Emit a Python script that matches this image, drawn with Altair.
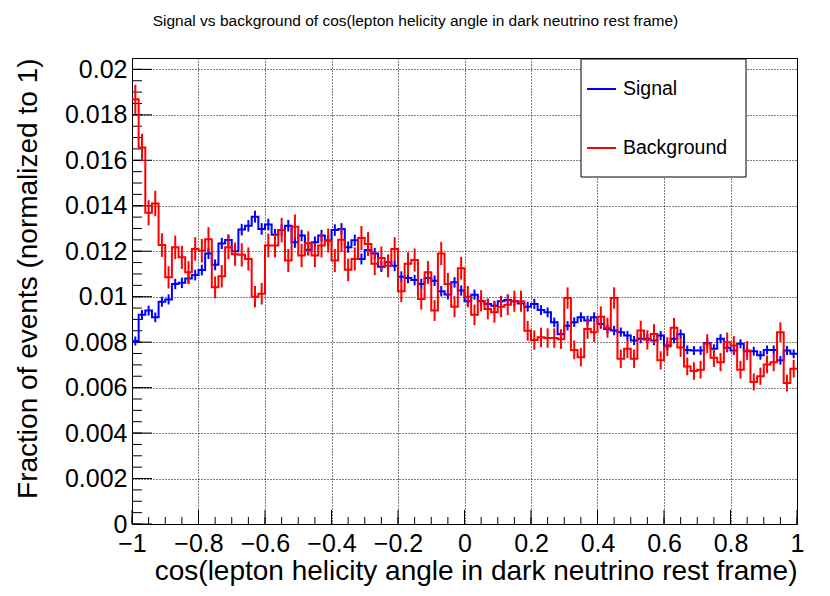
import altair as alt
import numpy as np
import pandas as pd

# ---------------- data ----------------
x_min, x_max, n_bins = -1.0, 1.0, 100

signal = [
    0.00805, 0.00920, 0.00939, 0.00909, 0.00978, 0.00988, 0.01056, 0.01061, 0.01080, 0.01095,
    0.01117, 0.01190, 0.01140, 0.01234, 0.01249, 0.01200, 0.01295, 0.01312, 0.01352, 0.01298,
    0.01317, 0.01273, 0.01293, 0.01312, 0.01240, 0.01269, 0.01206, 0.01240, 0.01269, 0.01247,
    0.01293, 0.01298, 0.01218, 0.01248, 0.01166, 0.01205, 0.01190, 0.01132, 0.01151, 0.01136,
    0.01088, 0.01082, 0.01073, 0.01056, 0.01082, 0.01070, 0.01024, 0.01010, 0.01063, 0.01027,
    0.00980, 0.01009, 0.00980, 0.00968, 0.00960, 0.00980, 0.00985, 0.00980, 0.00970, 0.00956,
    0.00968, 0.00941, 0.00931, 0.00887, 0.00835, 0.00872, 0.00888, 0.00910, 0.00895, 0.00910,
    0.00880, 0.00858, 0.00851, 0.00844, 0.00829, 0.00807, 0.00815, 0.00815, 0.00807, 0.00829,
    0.00785, 0.00815, 0.00835, 0.00766, 0.00763, 0.00763, 0.00796, 0.00771, 0.00815, 0.00775,
    0.00763, 0.00793, 0.00760, 0.00760, 0.00742, 0.00766, 0.00766, 0.00720, 0.00763, 0.00749,
]

background = [
    0.01868, 0.01656, 0.01369, 0.01410, 0.01227, 0.01085, 0.01217, 0.01173, 0.01107, 0.01210,
    0.01202, 0.01253, 0.01041, 0.01090, 0.01217, 0.01187, 0.01184, 0.01166, 0.01000, 0.01013,
    0.01225, 0.01225, 0.01293, 0.01159, 0.01308, 0.01181, 0.01235, 0.01181, 0.01225, 0.01247,
    0.01159, 0.01250, 0.01118, 0.01166, 0.01258, 0.01232, 0.01145, 0.01170, 0.01136, 0.01210,
    0.01024, 0.01145, 0.01161, 0.00990, 0.01107, 0.00939, 0.01190, 0.01056, 0.00956, 0.01125,
    0.01000, 0.00920, 0.00982, 0.00946, 0.00931, 0.00956, 0.00965, 0.00980, 0.00980, 0.00850,
    0.00809, 0.00821, 0.00818, 0.00818, 0.00813, 0.00994, 0.00766, 0.00734, 0.00858, 0.00844,
    0.00912, 0.00863, 0.00994, 0.00727, 0.00771, 0.00727, 0.00851, 0.00810, 0.00836, 0.00720,
    0.00781, 0.00863, 0.00777, 0.00693, 0.00673, 0.00679, 0.00793, 0.00731, 0.00712, 0.00800,
    0.00785, 0.00679, 0.00763, 0.00625, 0.00650, 0.00702, 0.00712, 0.00844, 0.00620, 0.00683,
]

# entries of each histogram (sets the Poisson error bars: err = sqrt(v / N))
n_signal_entries = 200000
n_background_entries = 45000

series_names = ["Signal", "Background"]
series_colors = ["#0000ff", "#ff0000"]

x_tick_labels = [-1, -0.8, -0.6, -0.4, -0.2, 0, 0.2, 0.4, 0.6, 0.8, 1]
y_tick_labels = [0, 0.002, 0.004, 0.006, 0.008, 0.01, 0.012, 0.014, 0.016, 0.018, 0.02]
y_top = 0.0205

title_text = "Signal vs background of cos(lepton helicity angle in dark neutrino rest frame)"
x_title = "cos(lepton helicity angle in dark neutrino rest frame)"
y_title = "Fraction of events (normalized to 1)"

# ---------------- tables ----------------
edges = np.linspace(x_min, x_max, n_bins + 1)
centers = 0.5 * (edges[:-1] + edges[1:])


def step_table(vals):
    return pd.DataFrame({"x": edges, "v": list(vals) + [vals[-1]]})


def err_table(vals, n):
    v = np.array(vals)
    e = np.sqrt(v / n)
    return pd.DataFrame({"x": centers, "v": v - e, "hi": v + e})


x_minor = [round(t, 4) for t in np.arange(x_min, x_max + 1e-9, 0.05)]
y_minor = [round(t, 5) for t in np.arange(0, y_top, 0.0005)]

W, H = 665, 466
FONT = "Liberation Sans"

xs = alt.Scale(domain=[x_min, x_max], nice=False, zero=False)
ys = alt.Scale(domain=[0, y_top], nice=False, zero=False)

grid_kw = dict(grid=True, gridColor="black", gridDash=[1, 2], gridOpacity=1, gridWidth=1)

x_axis = alt.Axis(
    values=x_tick_labels, format="~g", labelFont=FONT, labelFontSize=25, labelColor="black",
    labelPadding=7, labelFlush=False, labelOverlap=False, ticks=False, tickSize=0,
    domainColor="black", domainWidth=1,
    title=x_title, titleFont=FONT, titleFontSize=28, titleFontWeight="normal", titleColor="black",
    titleX=W, titleY=55, titleAlign="right", titleAnchor="end", titleBaseline="alphabetic",
    **grid_kw,
)
y_axis = alt.Axis(
    values=y_tick_labels, format="~g", labelFont=FONT, labelFontSize=25, labelColor="black",
    labelPadding=5, labelFlush=False, labelOverlap=False, ticks=False, tickSize=0,
    domainColor="black", domainWidth=1,
    title=y_title, titleFont=FONT, titleFontSize=28, titleFontWeight="normal", titleColor="black",
    titleX=-96, titleY=0, titleAngle=270, titleAlign="right", titleAnchor="end",
    titleBaseline="alphabetic",
    **grid_kw,
)


def X(field="x"):
    return alt.X(f"{field}:Q", scale=xs, axis=x_axis, title=x_title)


def Y(field="v"):
    return alt.Y(f"{field}:Q", scale=ys, axis=y_axis, title=y_title)


# inward ticks (ROOT style)
y_major_ticks = alt.Chart(pd.DataFrame({"v": y_tick_labels})).mark_rule(color="black", strokeWidth=1).encode(
    y=Y(), x=alt.value(0), x2=alt.value(20))
y_minor_ticks = alt.Chart(pd.DataFrame({"v": y_minor})).mark_rule(color="black", strokeWidth=1).encode(
    y=Y(), x=alt.value(0), x2=alt.value(10))
x_major_ticks = alt.Chart(pd.DataFrame({"x": x_tick_labels})).mark_rule(color="black", strokeWidth=1).encode(
    x=X(), y=alt.value(H), y2=alt.value(H - 14))
x_minor_ticks = alt.Chart(pd.DataFrame({"x": x_minor})).mark_rule(color="black", strokeWidth=1).encode(
    x=X(), y=alt.value(H), y2=alt.value(H - 7))


def hist_layers(vals, n, color):
    step = alt.Chart(step_table(vals)).mark_line(
        interpolate="step-after", color=color, strokeWidth=2).encode(x=X(), y=Y())
    err = alt.Chart(err_table(vals, n)).mark_rule(color=color, strokeWidth=2).encode(
        x=X(), y=Y(), y2="hi:Q")
    return [step, err]


one = pd.DataFrame({"a": [0]})
legend_box = alt.Chart(one).mark_rect(fill="white", stroke="black", strokeWidth=1).encode(
    x=alt.value(449), x2=alt.value(614), y=alt.value(1), y2=alt.value(119))
legend_layers = [legend_box]
for i, (name, col) in enumerate(zip(series_names, series_colors)):
    yy = 31 + 59 * i
    legend_layers.append(alt.Chart(one).mark_rule(color=col, strokeWidth=2).encode(
        x=alt.value(455), x2=alt.value(484), y=alt.value(yy)))
    legend_layers.append(alt.Chart(one).mark_text(
        align="left", baseline="middle", font=FONT, fontSize=19.5, color="black").encode(
        x=alt.value(491), y=alt.value(yy), text=alt.value(name)))

title_layer = alt.Chart(one).mark_text(
    align="center", baseline="alphabetic", font=FONT, fontSize=15.5, color="black").encode(
    x=alt.value(283.5), y=alt.value(-32), text=alt.value(title_text))

layers = [y_major_ticks, y_minor_ticks, x_major_ticks, x_minor_ticks]
layers += hist_layers(signal, n_signal_entries, series_colors[0])
layers += hist_layers(background, n_background_entries, series_colors[1])
layers += legend_layers + [title_layer]

chart = alt.layer(*layers).properties(
    width=W, height=H,
    autosize=alt.AutoSizeParams(type="none"),
    padding={"left": 124, "top": 50, "right": 25, "bottom": 64},
    background="white",
).configure_view(stroke="black", strokeWidth=1)

chart.save("out.html", embed_options={"renderer": "svg", "actions": False})
